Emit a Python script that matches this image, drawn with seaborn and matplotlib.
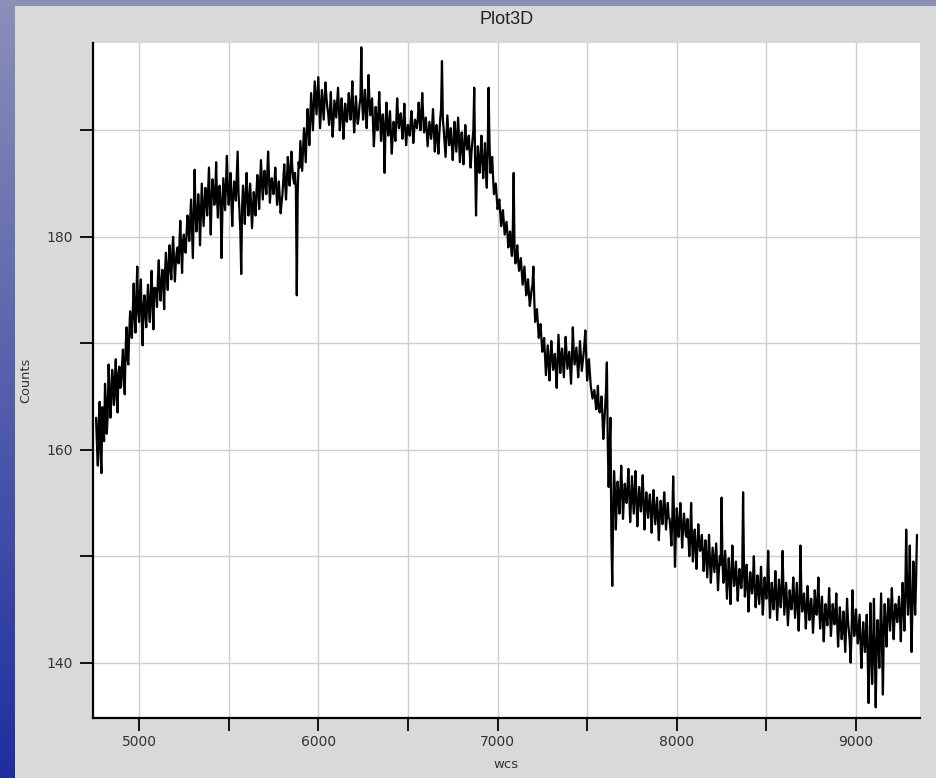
import numpy as np
import pandas as pd
import matplotlib
matplotlib.use("Agg")
import matplotlib.pyplot as plt
from matplotlib.ticker import MultipleLocator
import seaborn as sns

# ---- data ----
# samples on a 10 A grid starting at 4760 A
WAVE_START = 4760.0
WAVE_STEP = 10.0
counts = [
    163.0, 158.5, 164.5, 157.8, 162.0, 166.2, 161.5, 168.0, 163.0, 167.5,
    164.2, 168.5, 163.5, 167.8, 166.0, 169.4, 165.2, 171.5, 168.0, 173.0,
    170.5, 175.6, 171.0, 177.2, 172.0, 176.0, 169.8, 174.5, 171.5, 175.5,
    172.0, 176.8, 171.3, 175.2, 173.4, 177.8, 174.0, 176.9, 173.2, 178.5,
    175.0, 179.2, 176.0, 180.0, 175.8, 178.6, 177.5, 181.5, 176.6, 180.2,
    178.5, 182.0, 179.6, 183.5, 178.0, 186.3, 180.5, 184.0, 179.2, 185.0,
    181.0, 184.6, 182.0, 186.5, 180.2, 185.4, 183.0, 187.0, 181.8, 184.8,
    178.0, 185.5, 182.5, 187.6, 183.0, 186.0, 181.0, 185.2, 183.4, 188.0,
    182.5, 176.5, 184.8, 181.2, 186.0, 182.0, 185.0, 180.8, 184.2, 182.0,
    185.8, 182.6, 187.2, 183.5, 186.2, 184.0, 188.0, 183.2, 185.5, 184.0,
    186.5, 183.0, 185.2, 182.2, 184.0, 186.8, 183.5, 187.5, 184.8, 188.0,
    185.5, 186.0, 174.5, 187.0, 189.0, 186.2, 190.2, 187.0, 192.0, 188.6,
    193.5, 190.0, 194.6, 191.5, 195.0, 190.2, 193.8, 191.0, 194.5, 192.2,
    190.5, 193.6, 189.4, 192.8, 191.2, 194.0, 190.0, 193.0, 189.2, 192.5,
    190.8, 193.5, 191.0, 194.6, 189.8, 193.2, 190.6, 192.4, 197.8, 191.0,
    193.8, 190.2, 195.2, 191.4, 193.0, 188.5, 192.2, 190.0, 193.6, 189.0,
    191.5, 186.0, 192.6, 189.5, 191.8, 187.8, 190.8, 189.0, 193.0, 190.2,
    191.6, 189.2, 192.5, 188.6, 190.5, 189.5, 191.8, 188.8, 191.0, 190.2,
    192.6, 190.0, 193.5, 189.8, 191.2, 188.5, 190.8, 189.2, 192.0, 188.0,
    190.5, 187.8, 191.0, 196.5, 190.0, 187.5, 191.4, 188.6, 190.2, 187.2,
    190.8, 188.0, 191.2, 187.0, 189.8, 186.8, 190.5, 188.2, 189.5, 186.5,
    189.0, 194.0, 182.0, 188.5, 186.0, 189.5, 185.5, 188.8, 184.6, 194.0,
    186.0, 187.5, 184.0, 185.0, 182.6, 183.5, 181.0, 182.5, 180.2, 181.4,
    179.0, 180.5, 178.2, 186.0, 177.5, 179.2, 176.8, 178.0, 175.5, 177.2,
    174.5, 176.0, 173.5, 175.0, 177.2, 172.0, 173.2, 170.5, 171.8, 169.2,
    170.5, 167.0, 169.8, 166.5, 170.2, 167.5, 169.0, 165.8, 170.8, 167.2,
    169.5, 166.8, 170.6, 167.6, 169.2, 166.2, 171.5, 168.0, 169.6, 166.8,
    170.2, 167.4, 169.0, 171.2, 166.5, 168.5, 166.0, 164.8, 165.6, 163.8,
    166.0, 163.5, 165.0, 161.0, 164.0, 168.2, 156.5, 163.0, 147.2, 158.0,
    152.5, 157.0, 154.0, 158.5, 153.5, 156.8, 155.0, 158.2, 153.2, 157.5,
    154.0, 158.0, 152.8, 156.5, 154.2, 157.6, 152.5, 156.0, 153.6, 155.8,
    152.2, 156.2, 153.0, 155.5, 151.5, 155.2, 153.0, 156.0, 152.5, 155.0,
    153.5, 151.0, 157.5, 149.0, 154.5, 151.8, 155.0, 150.8, 154.0, 152.0,
    153.5, 150.0, 155.0, 149.5, 152.5, 148.8, 153.0, 150.5, 152.0, 148.6,
    151.5, 148.0, 152.0, 147.5, 150.8, 148.5, 151.2, 146.8, 150.0, 155.5,
    147.5, 150.5, 146.0, 149.8, 145.5, 151.0, 147.2, 149.5, 145.8, 148.8,
    147.0, 156.0, 146.2, 149.2, 144.8, 148.5, 146.5, 150.0, 145.2, 148.2,
    145.5, 149.0, 144.5, 148.0, 146.0, 150.5, 144.2, 147.5, 145.0, 148.6,
    144.0, 147.8, 145.2, 150.5, 144.5, 147.5, 143.5, 146.8, 145.0, 148.0,
    144.2, 147.5, 143.0, 151.0, 144.8, 146.5, 143.2, 147.2, 144.0, 146.0,
    142.8, 146.8, 144.5, 148.0, 143.2, 146.2, 142.0, 145.5, 143.5, 147.0,
    142.5, 145.5, 143.6, 146.5, 141.5, 145.2, 142.2, 144.8, 141.0, 146.0,
    143.0, 140.0, 146.8, 142.5, 145.0, 141.8, 144.5, 139.5, 143.8, 141.0,
    144.5, 136.2, 145.6, 138.0, 146.0, 135.8, 144.0, 139.5, 146.5, 137.0,
    145.5, 141.5, 146.0, 143.0, 147.0, 142.2, 145.5, 143.8, 146.2, 142.0,
    147.5, 143.0, 152.5, 144.5, 151.0, 141.0, 149.5, 144.5, 152.0,
]
# in-between samples, on the same grid shifted by 5 A
WAVE_START_MID = 4765.0
counts_mid = [
    160.5, 162.8, 159.8, 164.0, 160.8, 164.5, 163.2, 165.8, 164.6, 166.4,
    166.2, 165.0, 167.2, 165.8, 168.0, 166.8, 169.5, 168.6, 170.8, 171.2,
    173.2, 172.6, 174.5, 173.0, 174.8, 172.4, 173.5, 172.8, 173.8, 173.2,
    174.5, 173.8, 175.2, 174.8, 176.0, 175.2, 175.8, 175.5, 176.8, 176.2,
    177.5, 177.0, 178.4, 177.8, 177.6, 179.0, 179.2, 178.8, 179.5, 178.8,
    180.2, 181.0, 181.5, 180.8, 182.4, 182.2, 181.8, 182.6, 182.0, 183.0,
    182.8, 183.6, 184.2, 183.0, 183.8, 184.4, 184.0, 183.5, 184.6, 183.2,
    182.5, 184.0, 185.2, 184.6, 184.2, 183.6, 183.8, 184.5, 185.6, 184.0,
    180.5, 182.8, 183.2, 184.0, 183.6, 183.5, 182.8, 182.6, 183.0, 184.2,
    184.5, 185.0, 185.4, 184.8, 185.2, 185.8, 185.5, 184.6, 184.8, 185.0,
    184.8, 184.0, 183.6, 183.2, 185.4, 185.0, 185.6, 186.0, 186.2, 186.5,
    185.0, 184.5, 184.0, 186.5, 187.6, 188.2, 188.6, 189.8, 190.4, 191.0,
    191.8, 192.2, 193.0, 193.2, 192.5, 192.0, 192.4, 192.8, 193.2, 191.6,
    191.8, 191.2, 191.0, 192.0, 192.6, 192.0, 191.4, 191.6, 190.8, 191.2,
    192.0, 192.2, 192.6, 191.8, 191.4, 191.6, 191.2, 193.0, 192.6, 192.4,
    191.8, 192.4, 193.0, 192.2, 190.8, 190.2, 190.8, 191.5, 191.2, 190.4,
    190.0, 190.4, 190.8, 190.6, 189.6, 189.5, 190.0, 190.8, 191.2, 191.0,
    190.4, 190.6, 190.2, 189.8, 189.8, 190.6, 190.4, 190.0, 190.6, 191.0,
    191.2, 191.6, 191.4, 190.5, 189.8, 189.6, 190.0, 190.4, 190.0, 189.6,
    189.2, 189.6, 192.0, 191.0, 188.8, 189.4, 190.0, 189.6, 188.6, 188.8,
    189.4, 189.6, 189.0, 188.4, 188.2, 188.6, 189.2, 188.8, 187.8, 188.0,
    190.0, 187.0, 186.5, 187.0, 187.6, 187.2, 187.0, 186.4, 188.0, 189.0,
    186.6, 185.6, 184.5, 183.8, 183.0, 182.2, 181.8, 181.4, 180.8, 180.4,
    179.6, 179.2, 180.5, 178.5, 178.2, 177.8, 177.4, 176.8, 176.4, 175.8,
    175.2, 174.8, 174.2, 175.5, 174.0, 172.6, 171.8, 171.2, 170.4, 169.8,
    168.8, 168.4, 168.2, 168.6, 168.8, 168.2, 167.6, 168.4, 169.0, 168.6,
    168.2, 168.6, 169.0, 168.4, 167.8, 168.6, 169.2, 168.8, 168.2, 168.4,
    168.8, 168.2, 170.0, 168.6, 167.6, 167.2, 165.4, 165.2, 164.8, 164.6,
    163.8, 164.0, 163.2, 162.4, 165.5, 160.5, 160.0, 152.0, 154.0, 156.2,
    155.0, 155.6, 156.0, 156.2, 155.4, 155.8, 156.4, 155.6, 155.2, 155.8,
    156.0, 155.2, 154.8, 155.4, 155.8, 155.0, 154.6, 154.8, 155.0, 154.2,
    154.4, 154.6, 154.2, 153.6, 153.8, 154.0, 154.6, 154.2, 153.8, 153.6,
    152.4, 153.6, 153.0, 152.2, 153.0, 153.2, 152.8, 152.6, 153.0, 151.8,
    151.8, 152.0, 151.6, 151.2, 150.8, 151.0, 151.4, 151.0, 150.4, 150.2,
    149.8, 150.0, 149.6, 149.2, 149.6, 149.8, 149.0, 148.6, 149.2, 149.4,
    149.0, 148.2, 148.0, 147.8, 148.4, 148.6, 148.2, 147.6, 147.4, 147.8,
    148.2, 149.0, 147.6, 147.2, 146.8, 147.2, 147.8, 147.0, 146.6, 146.8,
    147.2, 146.6, 146.2, 146.8, 147.4, 146.8, 146.0, 146.2, 146.6, 146.4,
    145.8, 146.4, 146.8, 147.2, 146.0, 145.6, 145.2, 145.6, 146.2, 146.0,
    145.8, 145.2, 145.4, 146.6, 145.6, 145.2, 145.0, 145.4, 145.2, 144.8,
    144.6, 145.2, 145.8, 145.0, 144.8, 144.2, 144.0, 144.4, 144.8, 144.6,
    144.0, 144.4, 144.8, 143.8, 143.4, 143.6, 143.2, 143.0, 143.4, 144.0,
    142.0, 142.8, 144.2, 143.6, 143.0, 143.2, 142.0, 141.8, 142.4, 142.6,
    140.8, 140.2, 142.0, 141.0, 140.6, 141.4, 142.0, 143.0, 142.0, 143.2,
    143.6, 144.0, 144.6, 145.0, 144.4, 144.2, 144.8, 145.0, 144.4, 144.8,
    145.4, 146.6, 147.2, 146.6, 145.2, 145.6, 146.8, 147.6,
]

x_ticks = [5000, 6000, 7000, 8000, 9000]
y_ticks = [140, 160, 180]
title = "Plot3D"
x_label = "wcs"
y_label = "Counts"

wcs_a = WAVE_START + WAVE_STEP * np.arange(len(counts))
wcs_b = WAVE_START_MID + WAVE_STEP * np.arange(len(counts_mid))
df = pd.DataFrame({"wcs": np.concatenate([wcs_a, wcs_b]),
                   "Counts": np.concatenate([counts, counts_mid])})
df = df.sort_values("wcs").reset_index(drop=True)

# ---- figure ----
sns.set_theme(style="white")
plt.rcParams["font.family"] = ["DejaVu Sans"]

W, H = 936, 778
fig = plt.figure(figsize=(W / 100, H / 100), dpi=100, facecolor="#d9d9d9")

# window chrome: blue gradient strip on the left and band on top
grad = fig.add_axes([0, 0, 15 / W, 1])
g = np.linspace(0, 1, 256).reshape(-1, 1)
top_c = np.array([0x8a, 0x90, 0xb8]) / 255
bot_c = np.array([0x1e, 0x2e, 0xa0]) / 255
img = top_c[None, None, :] * (1 - g[..., None]) + bot_c[None, None, :] * g[..., None]
grad.imshow(img, aspect="auto", extent=[0, 1, 0, 1])
grad.set_axis_off()
topband = fig.add_axes([0, 1 - 6 / H, 1, 6 / H])
topband.set_facecolor("#8a90b8")
topband.set_xticks([]); topband.set_yticks([])
for s in topband.spines.values():
    s.set_visible(False)

ax = fig.add_axes([93 / W, 60 / H, (920 - 93) / W, (718 - 43) / H])
ax.set_facecolor("white")
sns.lineplot(data=df, x="wcs", y="Counts", ax=ax, color="black",
             linewidth=1.6, estimator=None, sort=False)

ax.set_xlim(4743, 9357)
ax.set_ylim(134.8, 198.2)
ax.set_xticks(x_ticks)
ax.set_yticks(y_ticks)
ax.xaxis.set_minor_locator(MultipleLocator(500))
ax.yaxis.set_minor_locator(MultipleLocator(10))
ax.grid(True, which="both", color="#cfcfcf", linewidth=1.0)
ax.set_axisbelow(True)

for side in ("top", "right"):
    ax.spines[side].set_visible(False)
for side in ("left", "bottom"):
    ax.spines[side].set_color("black")
    ax.spines[side].set_linewidth(1.6)

ax.tick_params(which="both", direction="out", length=9.5, width=1.3,
               color="black", labelsize=10, labelcolor="#333333")
ax.tick_params(axis="x", which="both", bottom=True, pad=3)
ax.tick_params(axis="y", which="both", left=True, pad=5)

ax.set_xlabel("")
ax.set_ylabel("")
fig.text((93 + 920) / 2 / W, 1 - 20 / H, title, ha="center", va="center",
         fontsize=13, color="#222222", family=["Liberation Sans", "DejaVu Sans"])
fig.text((93 + 920) / 2 / W, 1 - 765 / H, x_label, ha="center", va="center",
         fontsize=9.5, color="#333333")
fig.text(26 / W, 1 - 380 / H, y_label, ha="center", va="center",
         rotation=90, fontsize=9.3, color="#333333")

fig.savefig("out.png", dpi=100, facecolor=fig.get_facecolor())
